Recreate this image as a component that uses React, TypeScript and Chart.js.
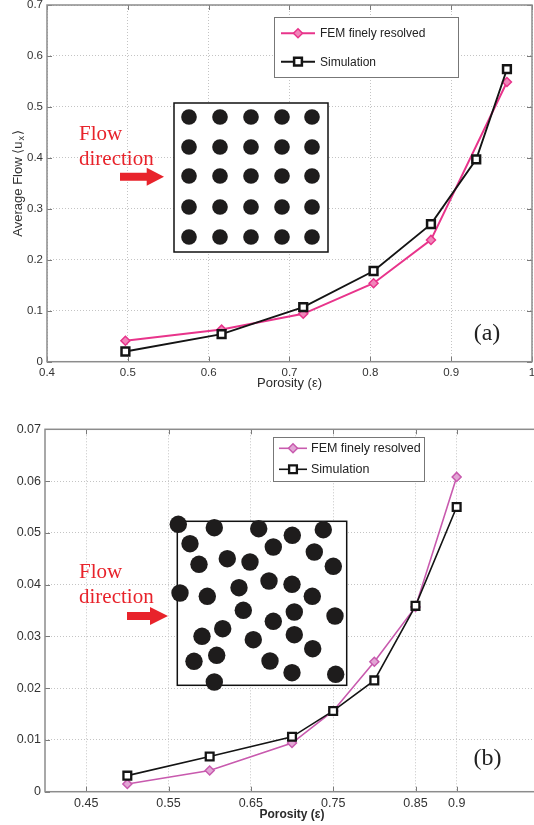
import React, { useEffect, useRef } from "react";
import { Chart, registerables } from "chart.js";
Chart.register(...registerables);

// ---------- data ----------
const seriesLabels = ["FEM finely resolved", "Simulation"];
const xTitle = "Porosity (ε)";
const yTitleParts = ["Average Flow ⟨u", "x", "⟩"];
const panelTags = ["(a)", "(b)"];
const flowLabel = ["Flow", "direction"];

// Panel (a)
const femPorosityA = [0.497, 0.616, 0.717, 0.804, 0.875, 0.969];
const femFlowA = [0.041, 0.063, 0.094, 0.154, 0.239, 0.549];
const simPorosityA = [0.497, 0.616, 0.717, 0.804, 0.875, 0.931, 0.969];
const simFlowA = [0.02, 0.054, 0.107, 0.178, 0.27, 0.397, 0.574];
const xTicksA = [0.4, 0.5, 0.6, 0.7, 0.8, 0.9, 1];
const yTicksA = [0, 0.1, 0.2, 0.3, 0.4, 0.5, 0.6, 0.7];

// Panel (b)
const porosityB = [0.5, 0.6, 0.7, 0.75, 0.8, 0.85, 0.9];
const femFlowB = [0.0015, 0.0041, 0.0094, 0.0156, 0.0251, 0.0357, 0.0608];
const simFlowB = [0.0031, 0.0068, 0.0106, 0.0156, 0.0215, 0.0359, 0.055];
const xTicksB = [0.45, 0.55, 0.65, 0.75, 0.85, 0.9];
const yTicksB = [0, 0.01, 0.02, 0.03, 0.04, 0.05, 0.06, 0.07];

// ---------- decoration (inset pictures) ----------
const gridCols = [15, 46, 77, 108, 138];
const gridRows = [14, 44, 73, 104, 134];
const circlesA: number[][] = [];
gridRows.forEach((cy) => gridCols.forEach((cx) => circlesA.push([cx, cy])));
const circlesB = [
  [1, 3], [37, 6.4], [81.4, 7.4], [115, 14], [146, 8.4], [12.7, 22.4], [96, 25.7],
  [137, 30.7], [21.7, 43], [50, 37.4], [72.7, 40.7], [156, 45], [91.7, 59.7],
  [114.7, 63], [61.7, 66.4], [2.7, 71.7], [30, 75], [135, 75], [66, 89],
  [117, 90.7], [157.7, 94.7], [96, 100], [45.4, 107.4], [24.7, 115], [117, 113.4],
  [76, 118.4], [135.4, 127.4], [39.4, 134], [16.7, 140], [92.7, 139.7],
  [114.7, 151.4], [158.4, 153], [37, 160.7],
];

const RED = "#e8232b";
const SANS = '"Liberation Sans", Arial, sans-serif';
const SERIF = '"Liberation Serif", "Times New Roman", serif';

const fmt = (v: number) => String(+Number(v).toFixed(3));

function drawMarker(ctx: CanvasRenderingContext2D, style: string, x: number, y: number, r: number, fill: string, stroke: string, lw: number) {
  ctx.beginPath();
  if (style === "rect") {
    const s = r * Math.SQRT1_2;
    ctx.rect(x - s, y - s, 2 * s, 2 * s);
  } else {
    ctx.moveTo(x, y - r);
    ctx.lineTo(x + r, y);
    ctx.lineTo(x, y + r);
    ctx.lineTo(x - r, y);
    ctx.closePath();
  }
  ctx.fillStyle = fill;
  ctx.fill();
  ctx.lineWidth = lw;
  ctx.strokeStyle = stroke;
  ctx.stroke();
}

function decorPlugin(d: any) {
  return {
    id: "decor",
    afterDraw(chart: any) {
      const ctx: CanvasRenderingContext2D = chart.ctx;
      const { left, top, right, bottom } = chart.chartArea;
      const xs = chart.scales.x;
      const ys = chart.scales.y;
      ctx.save();
      // inward ticks
      ctx.strokeStyle = "#7a7a7a";
      ctx.lineWidth = 1;
      ctx.beginPath();
      xs.ticks.forEach((t: any) => {
        const px = Math.round(xs.getPixelForValue(t.value)) + 0.5;
        ctx.moveTo(px, bottom);
        ctx.lineTo(px, bottom - 5);
        ctx.moveTo(px, top);
        ctx.lineTo(px, top + 5);
      });
      ys.ticks.forEach((t: any) => {
        const py = Math.round(ys.getPixelForValue(t.value)) + 0.5;
        ctx.moveTo(left, py);
        ctx.lineTo(left + 5, py);
        ctx.moveTo(right, py);
        ctx.lineTo(right - 5, py);
      });
      ctx.stroke();
      // box
      ctx.strokeStyle = "#8c8c8c";
      ctx.lineWidth = 1.5;
      ctx.strokeRect(left, top, right - left, bottom - top);

      // x title
      ctx.fillStyle = "#2a2a2a";
      ctx.font = d.titleX.font;
      ctx.textAlign = "center";
      ctx.textBaseline = "middle";
      ctx.fillText(xTitle, d.titleX.cx ?? (left + right) / 2, d.titleX.y);

      // y title (with subscript)
      if (d.titleY) {
        ctx.save();
        ctx.translate(d.titleY.x, (top + bottom) / 2);
        ctx.rotate(-Math.PI / 2);
        ctx.textAlign = "left";
        ctx.textBaseline = "middle";
        ctx.fillStyle = "#333";
        const mainFont = d.titleY.font;
        const subFont = d.titleY.subFont;
        ctx.font = mainFont;
        const w1 = ctx.measureText(yTitleParts[0]).width;
        const w3 = ctx.measureText(yTitleParts[2]).width;
        ctx.font = subFont;
        const w2 = ctx.measureText(yTitleParts[1]).width;
        let x0 = -(w1 + w2 + w3 + 2) / 2;
        ctx.font = mainFont;
        ctx.fillText(yTitleParts[0], x0, 0);
        x0 += w1 + 1;
        ctx.font = subFont;
        ctx.fillText(yTitleParts[1], x0, 4);
        x0 += w2 + 1;
        ctx.font = mainFont;
        ctx.fillText(yTitleParts[2], x0, 0);
        ctx.restore();
      }

      // legend
      const L = d.legend;
      ctx.fillStyle = "#fff";
      ctx.fillRect(L.x, L.y, L.w, L.h);
      ctx.strokeStyle = "#777";
      ctx.lineWidth = 1;
      ctx.strokeRect(L.x + 0.5, L.y + 0.5, L.w, L.h);
      chart.data.datasets.forEach((ds: any, i: number) => {
        const y = L.rows[i];
        ctx.strokeStyle = ds.borderColor;
        ctx.lineWidth = ds.borderWidth;
        ctx.beginPath();
        ctx.moveTo(L.lineX[0], y);
        ctx.lineTo(L.lineX[1], y);
        ctx.stroke();
        drawMarker(ctx, ds.pointStyle, (L.lineX[0] + L.lineX[1]) / 2, y, ds.pointRadius, ds.pointBackgroundColor, ds.pointBorderColor, ds.pointBorderWidth);
        ctx.fillStyle = "#222";
        ctx.font = L.font;
        ctx.textAlign = "left";
        ctx.textBaseline = "middle";
        ctx.fillText(ds.label, L.textX, y + 0.5);
      });

      // inset picture
      const I = d.inset;
      ctx.fillStyle = "#fff";
      ctx.fillRect(I.x, I.y, I.w, I.h);
      ctx.strokeStyle = "#111";
      ctx.lineWidth = 1.5;
      ctx.strokeRect(I.x, I.y, I.w, I.h);
      ctx.fillStyle = "#1e1c1c";
      I.circles.forEach((c: number[]) => {
        ctx.beginPath();
        ctx.arc(I.x + c[0], I.y + c[1], I.r, 0, Math.PI * 2);
        ctx.fill();
      });

      // flow direction
      const F = d.flow;
      ctx.fillStyle = RED;
      ctx.font = F.font;
      ctx.textAlign = "left";
      ctx.textBaseline = "alphabetic";
      ctx.fillText(flowLabel[0], F.textX, F.baselines[0]);
      ctx.fillText(flowLabel[1], F.textX, F.baselines[1]);
      const A = F.arrow;
      ctx.beginPath();
      ctx.moveTo(A.x0, A.y - A.shaft / 2);
      ctx.lineTo(A.x1, A.y - A.shaft / 2);
      ctx.lineTo(A.x1, A.y - A.head);
      ctx.lineTo(A.x2, A.y);
      ctx.lineTo(A.x1, A.y + A.head);
      ctx.lineTo(A.x1, A.y + A.shaft / 2);
      ctx.lineTo(A.x0, A.y + A.shaft / 2);
      ctx.closePath();
      ctx.fill();

      // panel tag
      ctx.fillStyle = "#222";
      ctx.font = d.tag.font;
      ctx.textAlign = "center";
      ctx.textBaseline = "middle";
      ctx.fillText(d.tag.text, d.tag.x, d.tag.y);
      ctx.restore();
    },
  };
}

function makeConfig(p: any) {
  const tickOpts = (fontSize: number) => ({
    padding: 4,
    autoSkip: false,
    maxRotation: 0,
    color: "#333",
    font: { family: SANS, size: fontSize },
    callback: (v: any) => fmt(v),
  });
  const gridOpts = { display: true, drawTicks: false, color: "#c4c4c4", lineWidth: 1 };
  return {
    type: "line",
    data: { datasets: p.datasets },
    options: {
      responsive: false,
      maintainAspectRatio: false,
      animation: false,
      events: [],
      layout: { autoPadding: false, padding: { top: p.top, right: p.canvasW - p.right, left: 0, bottom: 0 } },
      plugins: { legend: { display: false }, tooltip: { enabled: false } },
      scales: {
        x: {
          type: "linear",
          min: p.xMin,
          max: p.xMax,
          afterBuildTicks: (s: any) => {
            s.ticks = p.xTicks.map((v: number) => ({ value: v }));
          },
          afterFit: (s: any) => {
            s.height = p.canvasH - p.bottom;
            s.paddingLeft = 0;
            s.paddingRight = 0;
          },
          grid: gridOpts,
          border: { display: false, dash: [1, 2] },
          ticks: tickOpts(p.tickSize),
        },
        y: {
          type: "linear",
          min: p.yMin,
          max: p.yMax,
          afterBuildTicks: (s: any) => {
            s.ticks = p.yTicks.map((v: number) => ({ value: v }));
          },
          afterFit: (s: any) => {
            s.width = p.left;
            s.paddingTop = 0;
            s.paddingBottom = 0;
          },
          grid: gridOpts,
          border: { display: false, dash: [1, 2] },
          ticks: tickOpts(p.tickSize),
        },
      },
    },
    plugins: [decorPlugin(p.decor)],
  };
}

function series(label: string, xs: number[], ys: number[], style: any, order: number) {
  return {
    label,
    data: xs.map((x, i) => ({ x, y: ys[i] })),
    order,
    tension: 0,
    fill: false,
    ...style,
  };
}

const pinkA = { borderColor: "#e8348b", borderWidth: 2, pointStyle: "rectRot", pointRadius: 4.5, pointBackgroundColor: "#f185b9", pointBorderColor: "#e8348b", pointBorderWidth: 1.5 };
const blackA = { borderColor: "#141414", borderWidth: 1.9, pointStyle: "rect", pointRadius: 5.5, pointBackgroundColor: "#ffffff", pointBorderColor: "#141414", pointBorderWidth: 2.5 };
const pinkB = { borderColor: "#c85aae", borderWidth: 1.6, pointStyle: "rectRot", pointRadius: 4.5, pointBackgroundColor: "#e2a6d5", pointBorderColor: "#c85aae", pointBorderWidth: 1.5 };
const blackB = { borderColor: "#141414", borderWidth: 1.6, pointStyle: "rect", pointRadius: 5.5, pointBackgroundColor: "#ffffff", pointBorderColor: "#141414", pointBorderWidth: 2.3 };

const panelA = {
  canvasW: 534, canvasH: 400, left: 47, top: 5, right: 532, bottom: 361.7,
  xMin: 0.4, xMax: 1, yMin: 0, yMax: 0.7, xTicks: xTicksA, yTicks: yTicksA, tickSize: 11.5,
  datasets: [
    series(seriesLabels[0], femPorosityA, femFlowA, pinkA, 1),
    series(seriesLabels[1], simPorosityA, simFlowA, blackA, 0),
  ],
  decor: {
    titleX: { y: 383, font: `13px ${SANS}` },
    titleY: { x: 18, font: `13px ${SANS}`, subFont: `9px ${SANS}` },
    legend: { x: 274, y: 17, w: 184, h: 60, rows: [33.3, 61.7], lineX: [281, 315], textX: 320, font: `12px ${SANS}` },
    inset: { x: 174, y: 103, w: 154, h: 149, r: 7.8, circles: circlesA },
    flow: { textX: 79, baselines: [140, 165], font: `21px ${SERIF}`, arrow: { x0: 120, x1: 146.7, x2: 164, y: 176.7, shaft: 8, head: 9 } },
    tag: { text: panelTags[0], x: 487, y: 334, font: `24px ${SERIF}` },
  },
};

const panelB = {
  canvasW: 541, canvasH: 425, left: 45, top: 29.3, right: 539, bottom: 391.7,
  xMin: 0.4, xMax: 1, yMin: 0, yMax: 0.07, xTicks: xTicksB, yTicks: yTicksB, tickSize: 12.5,
  datasets: [
    series(seriesLabels[0], porosityB, femFlowB, pinkB, 1),
    series(seriesLabels[1], porosityB, simFlowB, blackB, 0),
  ],
  decor: {
    titleX: { y: 415, font: `bold 12px ${SANS}` },
    titleY: null,
    legend: { x: 273, y: 37, w: 151, h: 44, rows: [48.3, 69.3], lineX: [279, 307], textX: 311, font: `12.5px ${SANS}` },
    inset: { x: 177.3, y: 121.3, w: 169.4, h: 164, r: 8.7, circles: circlesB },
    flow: { textX: 79, baselines: [178.3, 203.3], font: `21px ${SERIF}`, arrow: { x0: 127, x1: 150, x2: 168, y: 216, shaft: 8, head: 9 } },
    tag: { text: panelTags[1], x: 487.5, y: 358.3, font: `24px ${SERIF}` },
  },
};

export default function App() {
  const refA = useRef<HTMLCanvasElement>(null);
  const refB = useRef<HTMLCanvasElement>(null);
  useEffect(() => {
    document.body.style.margin = "0";
    const a = new Chart(refA.current as HTMLCanvasElement, makeConfig(panelA) as any);
    const b = new Chart(refB.current as HTMLCanvasElement, makeConfig(panelB) as any);
    return () => {
      a.destroy();
      b.destroy();
    };
  }, []);
  return (
    <div style={{ position: "relative", width: 534, height: 825, overflow: "hidden", background: "#fff" }}>
      <canvas ref={refA} width={534} height={400} style={{ position: "absolute", left: 0, top: 0 }} />
      <canvas ref={refB} width={541} height={425} style={{ position: "absolute", left: 0, top: 400 }} />
    </div>
  );
}
